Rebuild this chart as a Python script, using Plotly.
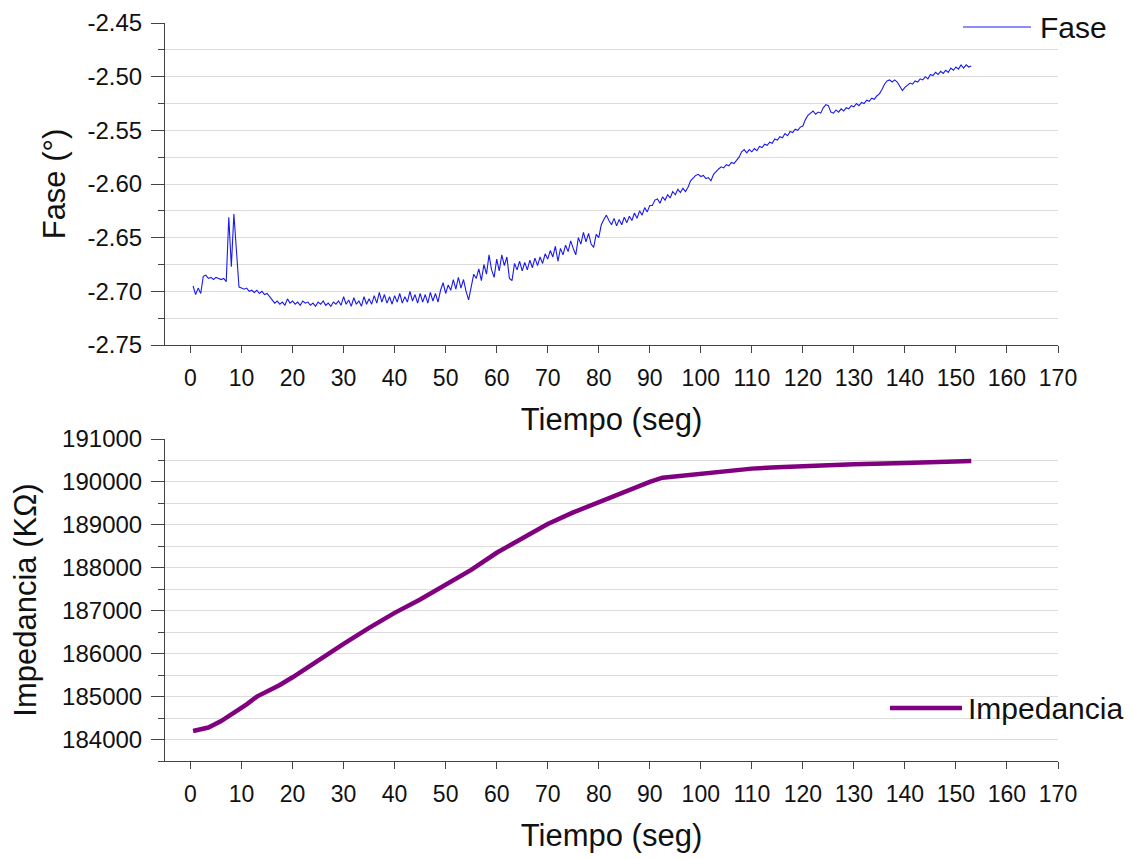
import plotly.graph_objects as go

# ---------------- data ----------------
# Fase (°): sampled every 0.5 s starting at t = 0.5 s
fase_t0 = 0.5
fase_dt = 0.5
fase_vals = [
    # 0.5 - 2.0
    -2.695, -2.703, -2.697, -2.702,
    # 2.5 - 7.0
    -2.686, -2.685, -2.688, -2.687, -2.689, -2.687, -2.688, -2.689, -2.688, -2.691,
    # 7.5 - 9.5 (spike)
    -2.631, -2.677, -2.628, -2.659, -2.696,
    # 10 - 15.5
    -2.697, -2.698, -2.697, -2.700, -2.699, -2.701, -2.699, -2.702, -2.700, -2.703, -2.702, -2.705,
    # 16 - 28.5
    -2.708, -2.711, -2.709, -2.712, -2.710, -2.713, -2.707, -2.711, -2.709, -2.712, -2.710, -2.713, -2.709,
    -2.711, -2.710, -2.713, -2.711, -2.714, -2.710, -2.712, -2.709, -2.713, -2.711, -2.714, -2.710, -2.712,
    # 29 - 44.5
    -2.709, -2.713, -2.705, -2.712, -2.708, -2.714, -2.706, -2.712, -2.709, -2.714, -2.705, -2.712, -2.707,
    -2.712, -2.704, -2.711, -2.701, -2.710, -2.703, -2.711, -2.705, -2.712, -2.704, -2.710, -2.702, -2.711,
    -2.705, -2.710, -2.700, -2.709, -2.703, -2.711,
    # 45 - 54.5
    -2.702, -2.710, -2.703, -2.711, -2.701, -2.709, -2.702, -2.710, -2.699, -2.692, -2.702, -2.694, -2.699,
    -2.689, -2.698, -2.687, -2.697, -2.689, -2.700, -2.708,
    # 55 - 70
    -2.696, -2.684, -2.688, -2.679, -2.690, -2.675, -2.684, -2.666, -2.680, -2.687, -2.670, -2.681, -2.666,
    -2.676, -2.668, -2.688, -2.690, -2.674, -2.680, -2.672, -2.681, -2.673, -2.680, -2.671, -2.678, -2.669,
    -2.676, -2.668, -2.674, -2.665, -2.670,
    # 70.5 - 81.5
    -2.662, -2.668, -2.658, -2.672, -2.660, -2.666, -2.657, -2.663, -2.653, -2.660, -2.666, -2.650, -2.656,
    -2.645, -2.654, -2.646, -2.656, -2.659, -2.647, -2.650, -2.638, -2.633, -2.629,
    # 82 - 90
    -2.634, -2.638, -2.632, -2.639, -2.633, -2.638, -2.631, -2.636, -2.630, -2.634, -2.627, -2.632, -2.625,
    -2.629, -2.622, -2.626, -2.620,
    # 90.5 - 98
    -2.620, -2.615, -2.614, -2.618, -2.612, -2.615, -2.610, -2.613, -2.607, -2.610, -2.605, -2.608, -2.604,
    -2.607, -2.603, -2.597,
    # 98.5 - 108
    -2.594, -2.592, -2.591, -2.593, -2.592, -2.595, -2.594, -2.597, -2.591, -2.588, -2.586, -2.584, -2.585,
    -2.582, -2.583, -2.580, -2.581, -2.578, -2.575, -2.570,
    # 108.5 - 120.5
    -2.568, -2.571, -2.568, -2.570, -2.567, -2.569, -2.565, -2.566, -2.563, -2.564, -2.561, -2.562, -2.558,
    -2.559, -2.556, -2.557, -2.553, -2.555, -2.551, -2.552, -2.549, -2.550, -2.547, -2.546, -2.540,
    # 121 - 136
    -2.536, -2.534, -2.532, -2.535, -2.533, -2.534, -2.529, -2.526, -2.527, -2.533, -2.534, -2.531, -2.533,
    -2.530, -2.532, -2.529, -2.530, -2.527, -2.528, -2.525, -2.527, -2.524, -2.525, -2.522, -2.523, -2.520,
    -2.521, -2.518, -2.516, -2.512, -2.507,
    # 136.5 - 153
    -2.504, -2.503, -2.505, -2.503, -2.505, -2.509, -2.513, -2.510, -2.508, -2.506, -2.507, -2.504, -2.505,
    -2.502, -2.503, -2.500, -2.502, -2.498, -2.499, -2.496, -2.498, -2.495, -2.497, -2.494, -2.496, -2.492,
    -2.494, -2.491, -2.493, -2.489, -2.492, -2.489, -2.491, -2.490,
]

# Impedancia (KΩ)
imp_t = [0.5, 3.5, 6, 8.5, 11, 13, 15, 17.5, 20, 25, 30, 35, 40, 45, 50, 55, 60, 65, 70,
         75, 80, 85, 90, 92.5, 100, 105, 110, 115, 120, 130, 140, 150, 153]
imp_vals = [184200, 184280, 184430, 184620, 184820, 185000, 185110, 185270, 185450, 185850,
            186230, 186600, 186950, 187260, 187600, 187950, 188350, 188700, 189020, 189290,
            189530, 189750, 190000, 190100, 190200, 190260, 190310, 190340, 190370, 190410,
            190440, 190470, 190490]

x_tick_vals = list(range(0, 171, 10))
x_tick_text = [str(v) for v in x_tick_vals]
fase_tick_vals = [-2.75, -2.70, -2.65, -2.60, -2.55, -2.50, -2.45]
fase_tick_text = ["-2.75", "-2.70", "-2.65", "-2.60", "-2.55", "-2.50", "-2.45"]
imp_tick_vals = [184000, 185000, 186000, 187000, 188000, 189000, 190000, 191000]
imp_tick_text = ["184000", "185000", "186000", "187000", "188000", "189000", "190000", "191000"]

# ---------------- styling ----------------
FONT = "Liberation Sans, Arial, sans-serif"
TXT = "#111111"
AXC = "#444444"
GRID = "#dcdcdc"
XTICK_FS = 23
YTICK_FS = 24
TITLE_FS = 31
LEG_FS = 30
FASE_C = "#1a1aee"
IMP_C = "#800080"

# page geometry (px); the page body adds an 8px offset
OFF = 8
W, H = 1133 - OFF, 859 - OFF
L, R, T, B = 165 - OFF, 75, 23 - OFF, 98
plot_w = W - L - R
plot_h = H - T - B
top_dom = [(761 - 345) / plot_h, 1.0]
bot_dom = [0.0, (761 - 439) / plot_h]

fig = go.Figure()
fig.add_trace(go.Scatter(
    x0=fase_t0, dx=fase_dt, y=fase_vals, mode="lines", name="Fase",
    line=dict(color=FASE_C, width=1.1), xaxis="x", yaxis="y", showlegend=False,
))
fig.add_trace(go.Scatter(
    x=imp_t, y=imp_vals, mode="lines", name="Impedancia",
    line=dict(color=IMP_C, width=4.5), xaxis="x2", yaxis="y2", showlegend=False,
))

xcommon = dict(
    range=[-5, 170], tickvals=x_tick_vals, ticktext=x_tick_text, automargin=False,
    ticks="outside", ticklen=7, tickcolor=AXC, tickwidth=1,
    showline=True, linecolor=AXC, linewidth=1, showgrid=False, zeroline=False,
    tickfont=dict(size=XTICK_FS, color=TXT, family=FONT), ticklabelstandoff=5,
    title=dict(text="Tiempo (seg)", font=dict(size=TITLE_FS, color=TXT, family=FONT), standoff=18),
)
xlong = dict(
    range=[-5, 170], dtick=20, tick0=0, ticks="outside", ticklen=13, tickcolor=AXC,
    tickwidth=1, showticklabels=False, showline=False, showgrid=False, zeroline=False,
    automargin=False,
)

ycommon = dict(
    ticks="outside", ticklen=13, tickcolor=AXC, tickwidth=1, automargin=False,
    showline=True, linecolor=AXC, linewidth=1, showgrid=True, gridcolor=GRID, gridwidth=1,
    zeroline=False, tickfont=dict(size=YTICK_FS, color=TXT, family=FONT), ticklabelstandoff=4,
)

fig.update_layout(
    template="none",
    width=W, height=H,
    margin=dict(l=L, r=R, t=T, b=B, autoexpand=False),
    paper_bgcolor="white", plot_bgcolor="white",
    font=dict(family=FONT, color=TXT),
    xaxis=dict(domain=[0, 1], anchor="y", **xcommon),
    xaxis3=dict(domain=[0, 1], anchor="y", overlaying="x", **xlong),
    yaxis=dict(
        domain=top_dom, anchor="x", range=[-2.75, -2.45],
        tickvals=fase_tick_vals, ticktext=fase_tick_text,
        minor=dict(dtick=0.025, tick0=-2.75, ticks="outside", ticklen=6, tickcolor=AXC,
                   showgrid=True, gridcolor=GRID, gridwidth=1),
        title=dict(text="Fase (°)", font=dict(size=TITLE_FS, color=TXT, family=FONT), standoff=12),
        **ycommon,
    ),
    xaxis2=dict(domain=[0, 1], anchor="y2", **xcommon),
    xaxis4=dict(domain=[0, 1], anchor="y2", overlaying="x2", **xlong),
    yaxis2=dict(
        domain=bot_dom, anchor="x2", range=[183500, 191000],
        tickvals=imp_tick_vals, ticktext=imp_tick_text,
        minor=dict(dtick=500, tick0=183500, ticks="outside", ticklen=6, tickcolor=AXC,
                   showgrid=True, gridcolor=GRID, gridwidth=1),
        title=dict(text="Impedancia (KΩ)", font=dict(size=TITLE_FS, color=TXT, family=FONT), standoff=18),
        **ycommon,
    ),
)

# legend samples (drawn as shapes + real text annotations), positions in page px
def px_x(px):
    return (px - OFF - L) / plot_w

def px_y(py):
    return (H - B - (py - OFF)) / plot_h

fig.add_shape(type="line", xref="paper", yref="paper",
              x0=px_x(963), x1=px_x(1031), y0=px_y(27), y1=px_y(27),
              line=dict(color=FASE_C, width=1))
fig.add_annotation(text="Fase", xref="paper", yref="paper", x=px_x(1038), y=px_y(27),
                   xanchor="left", yanchor="middle", showarrow=False,
                   font=dict(size=LEG_FS, color=TXT, family=FONT))
fig.add_shape(type="line", xref="paper", yref="paper",
              x0=px_x(890), x1=px_x(962), y0=px_y(708), y1=px_y(708),
              line=dict(color=IMP_C, width=4.5))
fig.add_annotation(text="Impedancia", xref="paper", yref="paper", x=px_x(966), y=px_y(708),
                   xanchor="left", yanchor="middle", showarrow=False,
                   font=dict(size=LEG_FS, color=TXT, family=FONT))

fig.write_html("out.html")
